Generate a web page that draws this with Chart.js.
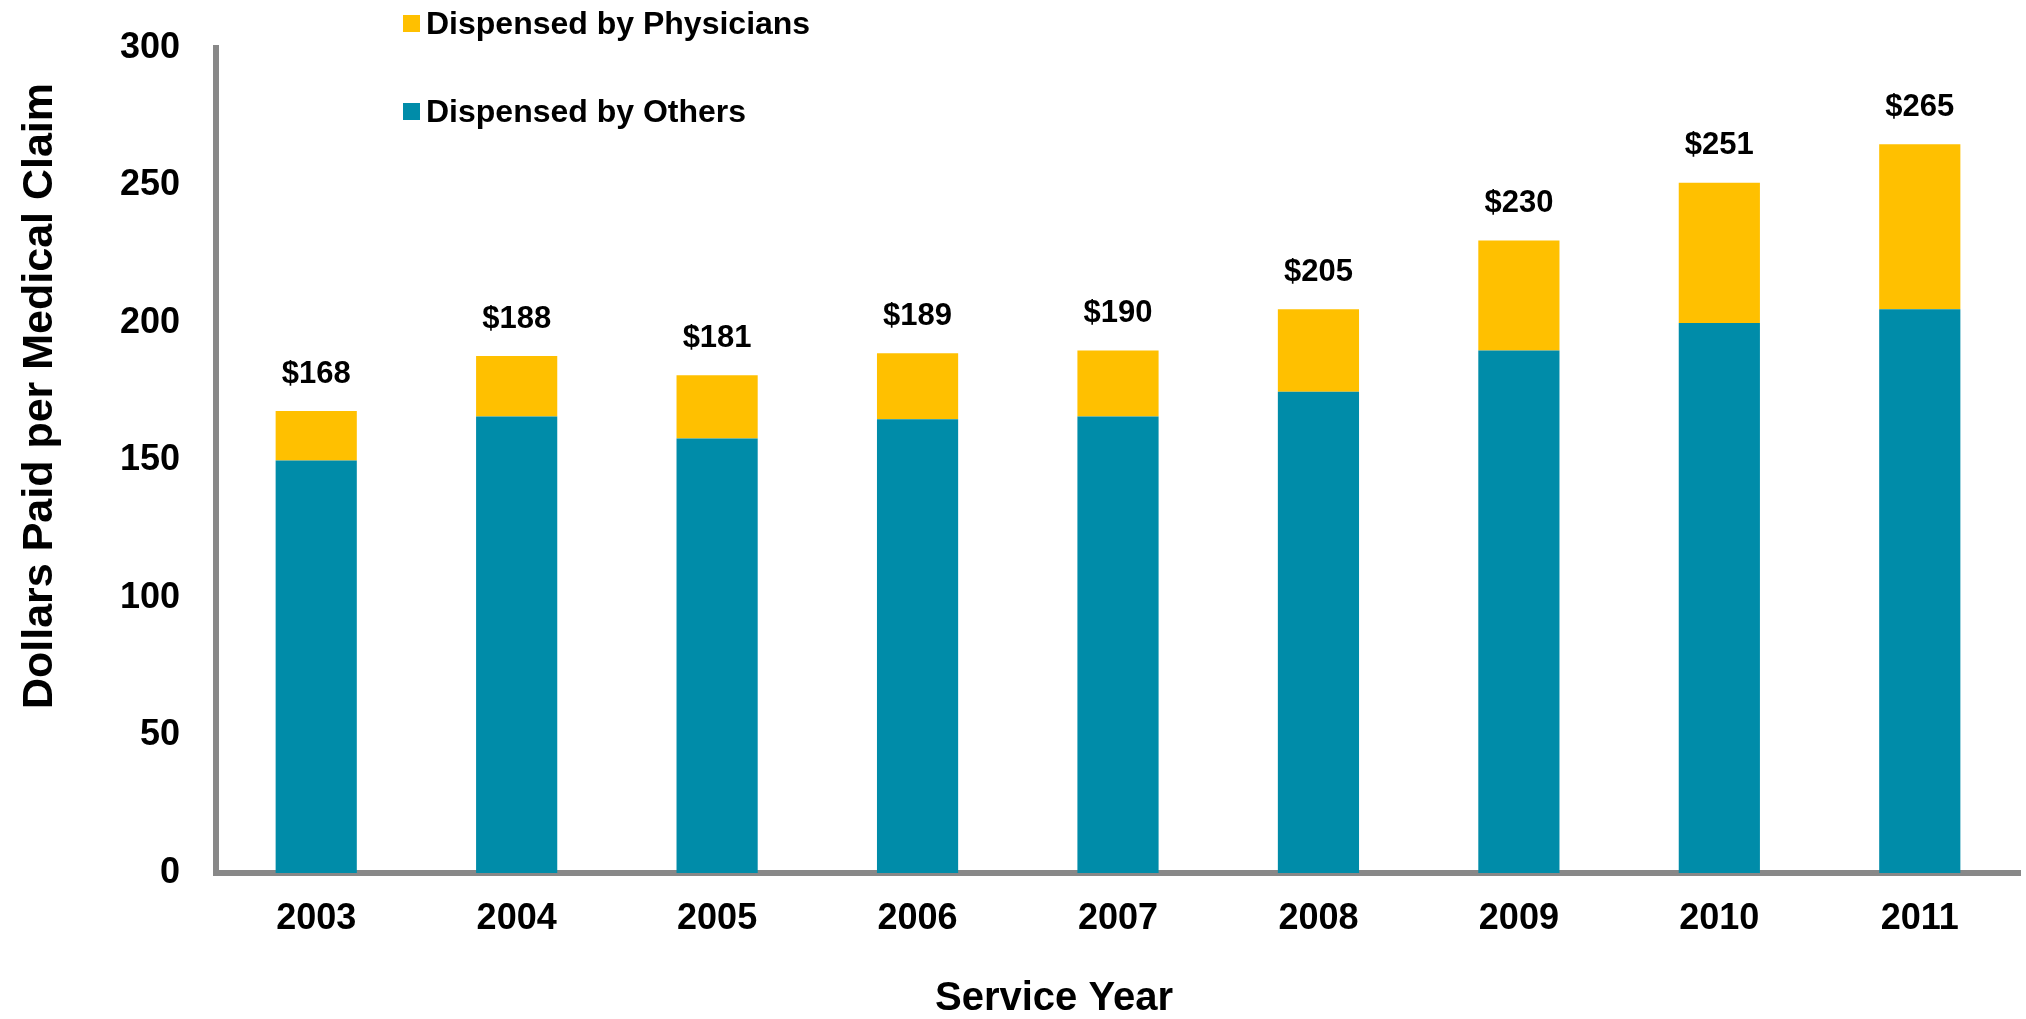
<!DOCTYPE html>
<html>
<head>
<meta charset="utf-8">
<script src="https://cdn.jsdelivr.net/npm/chart.js@4.4.1/dist/chart.umd.min.js"></script>
<style>
  html, body { margin: 0; padding: 0; background: #fff; }
  #wrap { position: relative; width: 2026px; height: 1019px; }
  .legend {
    position: absolute; left: 403px; height: 36px; line-height: 36px;
    font: bold 32px "Liberation Sans", Arial, sans-serif; color: #000;
    display: flex; align-items: center; white-space: nowrap;
  }
  .legend .box { width: 17px; height: 17px; margin-right: 6px; display: inline-block; }
</style>
</head>
<body>
<div id="wrap">
  <canvas id="chart" width="2026" height="1019"></canvas>
  <div class="legend" style="top:5px"><span class="box" style="background:#FFC000"></span>Dispensed by Physicians</div>
  <div class="legend" style="top:93px"><span class="box" style="background:#008CA9"></span>Dispensed by Others</div>
</div>
<script>
  // values
  const years = ["2003", "2004", "2005", "2006", "2007", "2008", "2009", "2010", "2011"];
  const others = [150, 166, 158, 165, 166, 175, 190, 200, 205];
  const physicians = [18, 22, 23, 24, 24, 30, 40, 51, 60];
  const yMin = 0, yMax = 300, yStep = 50;

  const FONT = '"Liberation Sans", Arial, sans-serif';
  const TEAL = "#008CA9";
  const GOLD = "#FFC000";
  const AXIS = "#888888";

  // "$168" style labels above each stack
  const totalLabels = {
    id: "totalLabels",
    afterDatasetsDraw(chart) {
      const ctx = chart.ctx;
      const meta = chart.getDatasetMeta(1);
      ctx.save();
      ctx.font = "bold 31px " + FONT;
      ctx.fillStyle = "#000";
      ctx.textAlign = "center";
      ctx.textBaseline = "middle";
      meta.data.forEach((bar, i) => {
        const total = others[i] + physicians[i];
        ctx.fillText("$" + total, bar.x, bar.y - 37);
      });
      ctx.restore();
    }
  };

  // axis titles sit off-centre in the reference, so place them by hand
  const axisTitles = {
    id: "axisTitles",
    afterDraw(chart) {
      const ctx = chart.ctx;
      ctx.save();
      ctx.fillStyle = "#000";
      ctx.textAlign = "center";
      ctx.textBaseline = "middle";
      ctx.font = "bold 40px " + FONT;
      ctx.fillText("Service Year", 1054, 999);
      ctx.translate(40, 396);
      ctx.rotate(-Math.PI / 2);
      ctx.font = "bold 43px " + FONT;
      ctx.fillText("Dollars Paid per Medical Claim", 0, 0);
      ctx.restore();
    }
  };

  new Chart(document.getElementById("chart"), {
    type: "bar",
    data: {
      labels: years,
      datasets: [
        { label: "Dispensed by Others", data: others, backgroundColor: TEAL, borderWidth: 0 },
        { label: "Dispensed by Physicians", data: physicians, backgroundColor: GOLD, borderWidth: 0 }
      ]
    },
    options: {
      responsive: false,
      animation: false,
      layout: { padding: { top: 48, right: 6, bottom: 0, left: 0 } },
      datasets: { bar: { barPercentage: 0.405, categoryPercentage: 1.0 } },
      plugins: {
        legend: { display: false },
        tooltip: { enabled: false }
      },
      scales: {
        x: {
          stacked: true,
          grid: { display: false, drawTicks: false },
          border: { display: true, color: AXIS, width: 6 },
          ticks: { color: "#000", font: { family: FONT, size: 36, weight: "bold" }, padding: 24 },
          afterFit: s => { s.height = 146; s.paddingLeft = 0; s.paddingRight = 0; }
        },
        y: {
          stacked: true,
          min: yMin,
          max: yMax,
          grid: { display: false, drawTicks: false },
          border: { display: true, color: AXIS, width: 6 },
          ticks: { stepSize: yStep, color: "#000", font: { family: FONT, size: 36, weight: "bold" }, padding: 36 },
          afterFit: s => { s.width = 216; s.paddingTop = 0; s.paddingBottom = 0; }
        }
      }
    },
    plugins: [totalLabels, axisTitles]
  });
</script>
</body>
</html>
